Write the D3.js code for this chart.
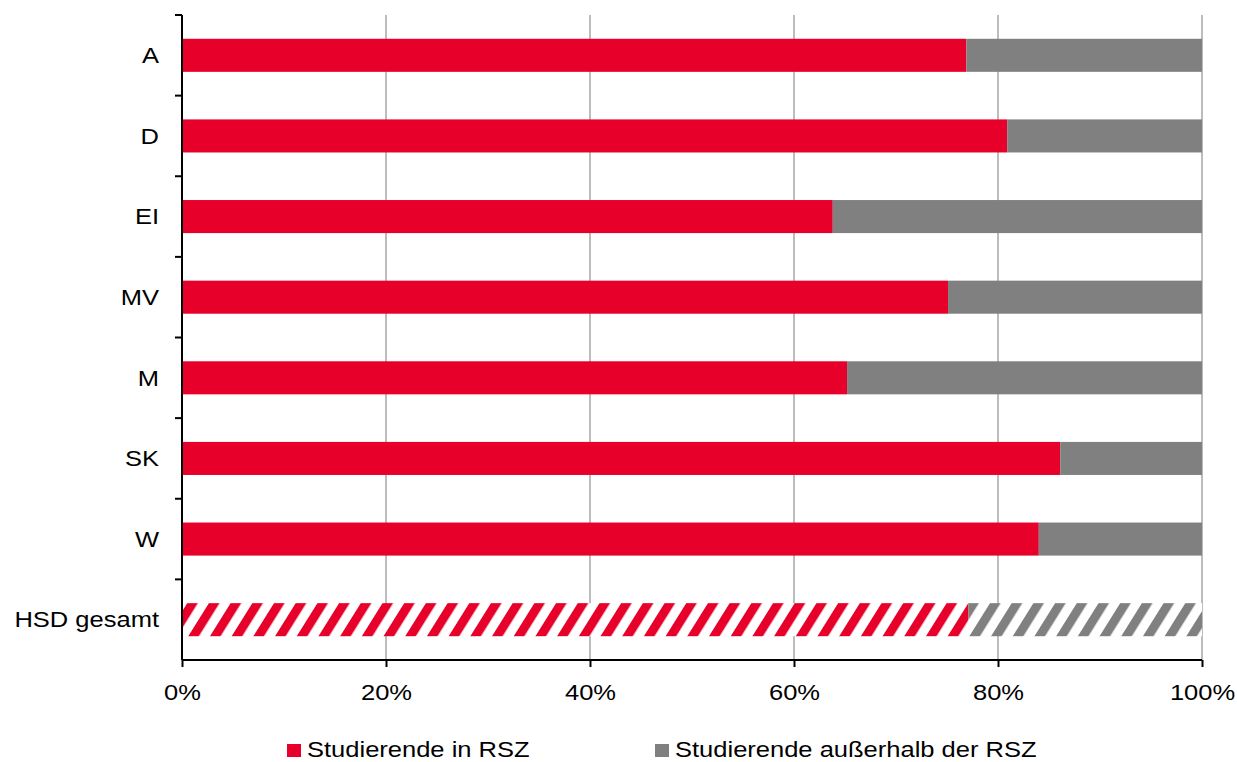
<!DOCTYPE html>
<meta charset="utf-8">
<style>
  body { margin: 0; background: #fff; }
  text { font-family: "Liberation Sans", Arial, sans-serif; font-size: 22px; fill: #000; }
</style>
<body>
<script src="https://d3js.org/d3.v7.min.js"></script>
<script>
var categories = ["A", "D", "EI", "MV", "M", "SK", "W", "HSD gesamt"];
var inRSZ =      [76.9, 80.9, 63.8, 75.1, 65.2, 86.1, 84.0, 77.1];
var outRSZ =     [23.1, 19.1, 36.2, 24.9, 34.8, 13.9, 16.0, 22.9];
var seriesNames = ["Studierende in RSZ", "Studierende außerhalb der RSZ"];
var xTicks = [0, 20, 40, 60, 80, 100];

var width = 1237, height = 762;
var red = "#e6002a", grey = "#808080";
var colors = [red, grey];
var sx = 1.16; // text in the original is a bit stretched

var svg = d3.select("body").append("svg")
  .attr("width", width)
  .attr("height", height);

// hatched fills for the total bar
var defs = svg.append("defs");
colors.forEach(function(c, i) {
  var p = defs.append("pattern")
    .attr("id", "hatch" + i)
    .attr("patternUnits", "userSpaceOnUse")
    .attr("width", 18.4)
    .attr("height", 40)
    .attr("patternTransform", "rotate(32)");
  p.append("rect").attr("width", 18.4).attr("height", 40).attr("fill", "#fff");
  p.append("rect").attr("width", 9).attr("height", 40).attr("fill", c);
});

var x = d3.scaleLinear().domain([0, 100]).range([182, 1202]);
var y = d3.scaleBand().domain(categories).range([15, 660])
  .paddingInner(0.59).paddingOuter(0.295);

// gridlines
svg.append("g").selectAll("line")
  .data(xTicks.slice(1))
  .join("line")
  .attr("x1", d => x(d)).attr("x2", d => x(d))
  .attr("y1", 15).attr("y2", 660)
  .attr("stroke", "#a6a6a6")
  .attr("stroke-width", 1.5);

var rows = categories.map(function(c, i) {
  return { cat: c, a: inRSZ[i], b: outRSZ[i] };
});
var stack = d3.stack().keys(["a", "b"])(rows);

svg.append("g").selectAll("g")
  .data(stack)
  .join("g")
  .each(function(s, si) {
    d3.select(this).selectAll("rect")
      .data(s)
      .join("rect")
      .attr("x", d => x(d[0]))
      .attr("width", d => x(d[1]) - x(d[0]))
      .attr("y", d => y(d.data.cat))
      .attr("height", y.bandwidth())
      .attr("fill", d => d.data.cat == "HSD gesamt" ? "url(#hatch" + si + ")" : colors[si]);
  });

// y axis with ticks on band boundaries
var off = (y.step() - y.bandwidth()) / 2;
var yb = categories.map(c => y(c) - off);
var ya = svg.append("g");
ya.append("line")
  .attr("x1", 182).attr("x2", 182).attr("y1", 15).attr("y2", 660)
  .attr("stroke", "#000").attr("stroke-width", 2);
ya.selectAll("line.tk")
  .data(yb)
  .join("line").attr("class", "tk")
  .attr("x1", 175).attr("x2", 182)
  .attr("y1", d => d).attr("y2", d => d)
  .attr("stroke", "#000").attr("stroke-width", 2);
ya.selectAll("text")
  .data(categories)
  .join("text")
  .attr("transform", d => "translate(159," + (y(d) + y.bandwidth() / 2) + ") scale(" + sx + ",1)")
  .attr("dy", "0.35em")
  .attr("text-anchor", "end")
  .text(d => d);

// x axis
var xa = svg.append("g")
  .attr("transform", "translate(0,660)")
  .call(d3.axisBottom(x).tickValues(xTicks).tickFormat(d => d + "%").tickSize(7).tickPadding(17));
xa.select(".domain").attr("stroke", "#000").attr("stroke-width", 2).attr("d", "M182,0H1202");
xa.selectAll(".tick line").attr("stroke", "#000").attr("stroke-width", 2);
xa.selectAll("text")
  .attr("transform", "scale(" + sx + ",1)")
  .style("font-size", "22px")
  .style("font-family", "'Liberation Sans', Arial, sans-serif");

// legend
var legX = [287, 655];
var leg = svg.append("g").selectAll("g")
  .data(seriesNames)
  .join("g")
  .attr("transform", (d, i) => "translate(" + legX[i] + ",744)");
leg.append("rect").attr("width", 14).attr("height", 13).attr("fill", (d, i) => colors[i]);
leg.append("text")
  .attr("transform", "translate(20,13) scale(" + sx + ",1)")
  .text(d => d);
</script>
</body>
